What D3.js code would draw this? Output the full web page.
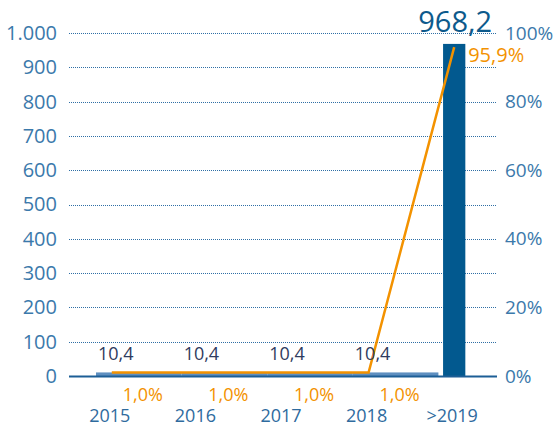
<!DOCTYPE html>
<html><head><meta charset="utf-8">
<script src="https://cdn.jsdelivr.net/npm/d3@7"></script>
<style>body{margin:0;background:#fff}svg{display:block}text{font-family:"Open Sans",sans-serif}</style>
</head><body><svg id="c" width="556" height="428"></svg>
<script>
const categories = ["2015","2016","2017","2018",">2019"];
const barValues = [10.4,10.4,10.4,10.4,968.2];
const barLabels = ["10,4","10,4","10,4","10,4","968,2"];
const pctValues = [1.0,1.0,1.0,1.0,95.9];
const pctLabels = ["1,0%","1,0%","1,0%","1,0%","95,9%"];
const leftTicks = [0,100,200,300,400,500,600,700,800,900,1000];
const leftTickLabels = ["0","100","200","300","400","500","600","700","800","900","1.000"];
const rightTicks = [0,20,40,60,80,100];

const svg = d3.select("#c");
const L = 69, R = 497, T = 33, B = 376;
const x = d3.scaleBand().domain(categories).range([L, R]).padding(0);
const y = d3.scaleLinear().domain([0,1000]).range([B, T]);
const y2 = d3.scaleLinear().domain([0,100]).range([B, T]);
const step = x.step();
const bw = step * 0.26;
const blue = "#3b79ab";
const idx = categories.map((c,i)=>i);

// gridlines
svg.append("g").selectAll("line").data(leftTicks.filter(d=>d>0)).join("line")
  .attr("x1", L).attr("x2", R).attr("y1", d=>Math.round(y(d))+0.5).attr("y2", d=>Math.round(y(d))+0.5)
  .attr("stroke", "#2f6fa5").attr("stroke-width", 1).attr("stroke-dasharray", "1,1");

// left axis
const la = d3.axisLeft(y).tickValues(leftTicks).tickSize(0).tickPadding(12)
  .tickFormat((d,i)=>leftTickLabels[i]);
svg.append("g").attr("transform", `translate(${L},0)`).call(la)
  .call(g=>g.select(".domain").remove())
  .selectAll("text").attr("font-size", 20).attr("fill", blue).attr("font-family", "Open Sans");

// right axis
const ra = d3.axisRight(y2).tickValues(rightTicks).tickSize(0).tickPadding(9).tickFormat(d=>d+"%");
svg.append("g").attr("transform", `translate(${R-1},0)`).call(ra)
  .call(g=>g.select(".domain").remove())
  .selectAll("text").attr("font-size", 19).attr("fill", blue).attr("font-family", "Open Sans");

// small bars (light)
svg.append("g").selectAll("rect").data(idx.filter(i=>barValues[i] < 100)).join("rect")
  .attr("x", i=>x(categories[i]) + 27).attr("width", step)
  .attr("y", i=>y(barValues[i])).attr("height", i=>B - y(barValues[i]))
  .attr("fill", "#5e8fc0");
// big bar
svg.append("g").selectAll("rect").data(idx.filter(i=>barValues[i] >= 100)).join("rect")
  .attr("x", i=>x(categories[i]) + step/2 - bw/2).attr("width", bw)
  .attr("y", i=>y(barValues[i])).attr("height", i=>B - y(barValues[i]))
  .attr("fill", "#02598f");

// x axis line
svg.append("line").attr("x1", L).attr("x2", R).attr("y1", B+0.5).attr("y2", B+0.5)
  .attr("stroke", "#1c5e96").attr("stroke-width", 2);

// orange line
const line = d3.line().x((d,i)=>x(categories[i]) + step/2).y(d=>y2(d));
svg.append("path").datum(pctValues).attr("d", line)
  .attr("fill", "none").attr("stroke", "#f39200").attr("stroke-width", 2.5);

// bar value labels
svg.append("g").selectAll("text").data(idx.filter(i=>barValues[i] < 100)).join("text")
  .attr("x", i=>x(categories[i]) + step/2 + 4).attr("y", i=>y(barValues[i]) - 12)
  .attr("text-anchor", "middle").attr("font-size", 18).attr("fill", "#2f3b5e").text(i=>barLabels[i]);
svg.append("g").selectAll("text").data(idx.filter(i=>barValues[i] >= 100)).join("text")
  .attr("x", i=>x(categories[i]) + step/2 + 1).attr("y", i=>y(barValues[i]) - 12)
  .attr("text-anchor", "middle").attr("font-size", 29).attr("fill", "#0d5a8c").text(i=>barLabels[i]);

// pct labels
svg.append("g").selectAll("text").data(idx.filter(i=>pctValues[i] < 50)).join("text")
  .attr("x", i=>x(categories[i]) + step/2 + 31).attr("y", i=>y2(pctValues[i]) + 28)
  .attr("text-anchor", "middle").attr("font-size", 18).attr("fill", "#f39200").text(i=>pctLabels[i]);
svg.append("g").selectAll("text").data(idx.filter(i=>pctValues[i] >= 50)).join("text")
  .attr("x", i=>x(categories[i]) + step/2 + 14).attr("y", i=>y2(pctValues[i]) + 15)
  .attr("text-anchor", "start").attr("font-size", 20).attr("fill", "#f39200").text(i=>pctLabels[i]);

// category labels
svg.append("g").selectAll("text").data(categories).join("text")
  .attr("x", d=>x(d) + step/2 - 2).attr("y", 422)
  .attr("text-anchor", "middle").attr("font-size", 18).attr("fill", "#2f6b9e").text(d=>d);
</script></body></html>
